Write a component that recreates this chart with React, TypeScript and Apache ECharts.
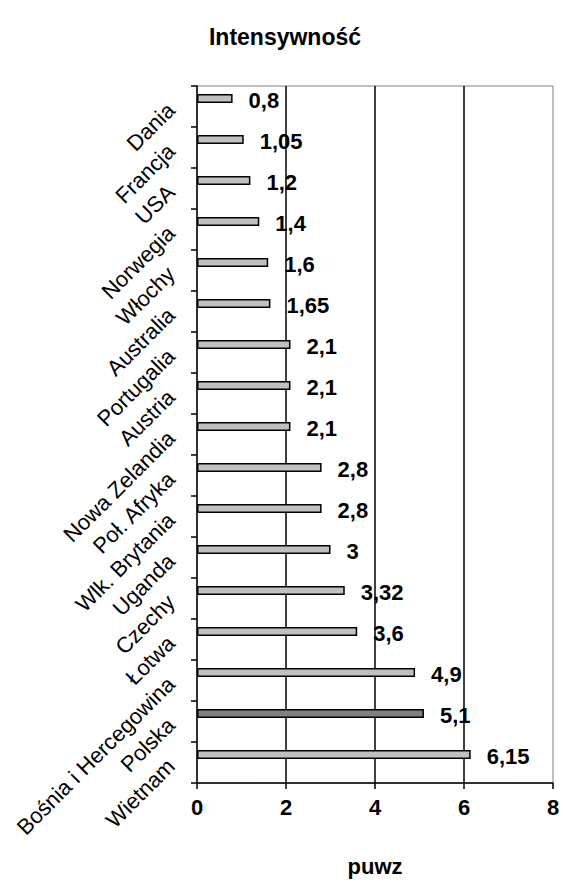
import React, { useEffect, useRef } from "react";
import * as echarts from "echarts";

const categories = [
  "Dania", "Francja", "USA", "Norwegia", "Włochy", "Australia", "Portugalia",
  "Austria", "Nowa Zelandia", "Poł. Afryka", "Wlk. Brytania", "Uganda",
  "Czechy", "Łotwa", "Bośnia i Hercegowina", "Polska", "Wietnam",
];
const values = [0.8, 1.05, 1.2, 1.4, 1.6, 1.65, 2.1, 2.1, 2.1, 2.8, 2.8, 3, 3.32, 3.6, 4.9, 5.1, 6.15];
const highlighted = ["Polska"];
const xTicks = { min: 0, max: 8, interval: 2 };

const FONT = 'Arial, "Liberation Sans", sans-serif';

export default function App() {
  const ref = useRef<HTMLDivElement>(null);
  useEffect(() => {
    document.body.style.margin = "0";
    const chart = echarts.init(ref.current!, null, { renderer: "svg" });
    chart.setOption({
      animation: false,
      backgroundColor: "#ffffff",
      title: {
        text: "Intensywność",
        left: 280,
        textAlign: "center",
        top: 20,
        textStyle: { fontFamily: FONT, fontSize: 23, fontWeight: "bold", color: "#000" },
      },
      grid: {
        left: 197,
        right: 10,
        top: 86,
        bottom: 101,
        show: true,
        borderColor: "#808080",
        borderWidth: 1,
        containLabel: false,
      },
      xAxis: {
        type: "value",
        min: xTicks.min,
        max: xTicks.max,
        interval: xTicks.interval,
        name: "puwz",
        nameLocation: "middle",
        nameGap: 72,
        nameTextStyle: { fontFamily: FONT, fontSize: 22, fontWeight: "bold", color: "#000" },
        axisLine: { show: true, lineStyle: { color: "#000", width: 1.5 } },
        axisTick: { show: true, length: 6, lineStyle: { color: "#000", width: 1.5 } },
        axisLabel: {
          margin: 13,
          fontFamily: FONT,
          fontSize: 22,
          fontWeight: "bold",
          color: "#000",
        },
        splitLine: {
          show: true,
          showMinLine: false,
          showMaxLine: false,
          lineStyle: { color: "#000", width: 1.5 },
        },
      },
      yAxis: {
        type: "category",
        inverse: true,
        data: categories,
        axisLine: { show: true, lineStyle: { color: "#000", width: 1.5 } },
        axisTick: { show: true, length: 6, lineStyle: { color: "#000", width: 1.5 } },
        axisLabel: {
          rotate: 45,
          margin: 26,
          interval: 0,
          verticalAlign: "middle",
          fontFamily: FONT,
          fontSize: 22,
          color: "#000",
        },
        splitLine: { show: false },
      },
      series: [
        {
          type: "bar",
          barWidth: 9,
          barGap: "80%",
          data: values.map((v, i) => ({
            value: v,
            itemStyle: {
              color: highlighted.includes(categories[i]) ? "#808080" : "#c0c0c0",
            },
          })),
          itemStyle: { borderColor: "#000", borderWidth: 1.5 },
          label: {
            show: true,
            position: "right",
            distance: 16,
            offset: [0, 2],
            fontFamily: FONT,
            fontSize: 22,
            fontWeight: "bold",
            color: "#000",
            formatter: (p: any) => String(p.value).replace(".", ","),
          },
        },
        {
          type: "bar",
          barWidth: 9,
          barGap: "80%",
          data: values.map(() => null),
        },
      ],
    });
    return () => chart.dispose();
  }, []);
  return <div ref={ref} style={{ width: 563, height: 884 }} />;
}
